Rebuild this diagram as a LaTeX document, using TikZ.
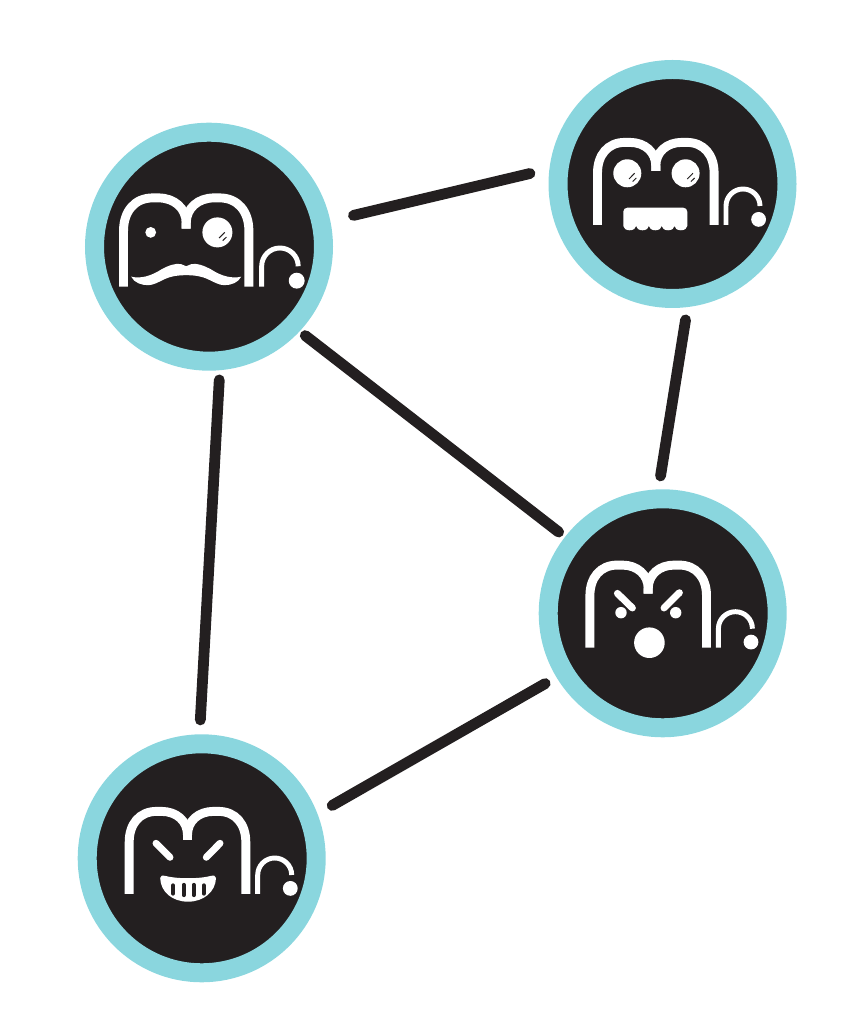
\documentclass[tikz,border=0pt]{standalone}
\usepackage{xcolor}
\usetikzlibrary{arrows}
\definecolor{ringteal}{HTML}{8AD6DE}
\definecolor{facedark}{HTML}{231F20}
\tikzset{
	face/.style={circle,draw=ringteal,fill=facedark,line width=14.25pt,minimum size=171.75pt,inner sep=0pt},
	link/.style={draw=facedark,line width=8.1pt,line cap=round},
	mrbig/.style={draw=white,line width=6.7pt},
	mrsmall/.style={draw=white,line width=3.7pt},
	brow/.style={draw=white,line width=5.2pt,line cap=round},
	glint/.style={draw=facedark,line width=0.75pt},
	slot/.style={draw=facedark,line width=3.2pt,line cap=round}
}
% the letters, origin at the middle of their base line
\newcommand{\mrglyph}[1][1]{
	\begin{scope}[scale=#1]
		\draw[mrbig] (-58.3,0) -- (-58.3,52) .. controls (-58.3,70) and (-48,82.6) .. (-31,82.6) -- (-26,82.6) .. controls (-11,82.6) and (0,73) .. (0,59) -- (0,54);
		\draw[mrbig] (58.3,0) -- (58.3,52) .. controls (58.3,70) and (48,82.6) .. (31,82.6) -- (26,82.6) .. controls (11,82.6) and (0,73) .. (0,59) -- (0,54);
		\draw[mrsmall] (70.2,0) -- (70.2,19) arc (180:0:17);
		\fill[white] (102.8,5.6) circle (7.4);
	\end{scope}
}
% eye with two small strokes
\newcommand{\glasseye}[3]{
	\fill[white] (#1,#2) circle (#3);
	\draw[glint] (#1+1.7,#2-5.7) -- (#1+7.3,#2);
	\draw[glint] (#1+5.3,#2-8.3) -- (#1+9,#2-4.7);
}

\begin{document}
\begin{tikzpicture}[x=0.75pt,y=0.75pt]
	\useasboundingbox (0,0) rectangle (854,1031);
	\node[face] (UL) at (209,784.3) {};
	\node[face] (UR) at (672.5,847) {};
	\node[face] (LR) at (662.7,417.7) {};
	\node[face] (LL) at (201.7,172.7) {};
	%
	\path[link]
	(UL.12) edge[shorten <=17.85pt,shorten >=15pt] (UR.173)
	(UL.-43.9) edge[shorten <=5.3pt,shorten >=6pt] (LR.142.5)
	(UL.-85.6) edge[shorten <=7.3pt,shorten >=10.8pt] (LL.91.1)
	(UR.-83.3) edge[shorten <=9.75pt,shorten >=10.2pt] (LR.92.2)
	(LR.211.8) edge[shorten <=9.7pt,shorten >=12.7pt] (LL.21.3);
	%
	\begin{scope}[shift={(186.2,744.3)}]
		\mrglyph[1.075]
		\fill[white] (-35.5,54.3) circle (5.4);
		\glasseye{31.2}{54.3}{15}
		\fill[white] (-55,10) .. controls (-46,8) and (-36,10) .. (-24.5,17.5) .. controls (-18,21) and (-10,24) .. (-5,22.5) -- (0,20.5) -- (5,22.5) .. controls (10,24) and (18,21) .. (24.5,17.5) .. controls (36,10) and (46,8) .. (55,10) .. controls (52,4) and (45,1.5) .. (38,1.5) .. controls (33,1.5) and (28,4.5) .. (21,7.8) .. controls (16,10) and (10,11.5) .. (0,11.5) .. controls (-10,11.5) and (-16,10) .. (-21,7.8) .. controls (-28,4.5) and (-33,1.5) .. (-38,1.5) .. controls (-45,1.5) and (-52,4) .. (-55,10) -- cycle;
	\end{scope}
	%
	\begin{scope}[shift={(655.8,806)}]
		\mrglyph
		\glasseye{-28.5}{51.7}{14}
		\glasseye{29.8}{51.7}{14}
		\fill[white] (-32.5,-1) [rounded corners=3pt] -- (-32.5,17.3) -- (31.5,17.3) [sharp corners] -- (31.5,-1) arc (0:-180:6.4 and 4.3) arc (0:-180:6.4 and 4.3) arc (0:-180:6.4 and 4.3) arc (0:-180:6.4 and 4.3) arc (0:-180:6.4 and 4.3) -- cycle;
	\end{scope}
	%
	\begin{scope}[shift={(648.2,383.3)}]
		\mrglyph
		\draw[brow] (-30.8,54.3) -- (-15.8,39.7);
		\draw[brow] (31.2,55) -- (15.8,39.7);
		\fill[white] (-27.2,35) circle (5.7);
		\fill[white] (27.5,35) circle (5.7);
		\fill[white] (1.2,5) circle (15.3);
	\end{scope}
	%
	\begin{scope}[shift={(187.5,137)}]
		\mrglyph
		\draw[brow] (-31.5,50.7) -- (-17.5,36.7);
		\draw[brow] (32.5,50.7) -- (18.8,36.7);
		\fill[white] (-27.3,16) .. controls (-27.3,18.5) and (-25,18.8) .. (-22,18) .. controls (-10,15) and (11,15) .. (23,18) .. controls (26,18.8) and (28.5,18.5) .. (28.5,16) .. controls (28,2) and (16,-7.7) .. (0.5,-7.7) .. controls (-15,-7.7) and (-27,2) .. (-27.3,16) -- cycle;
		\draw[slot] (-14.5,8.5) -- (-14.5,0.5);
		\draw[slot] (-3.8,9) -- (-3.8,-1);
		\draw[slot] (6.2,9) -- (6.2,-1);
		\draw[slot] (16.2,8.5) -- (16.2,0.5);
	\end{scope}
\end{tikzpicture}
\end{document}
